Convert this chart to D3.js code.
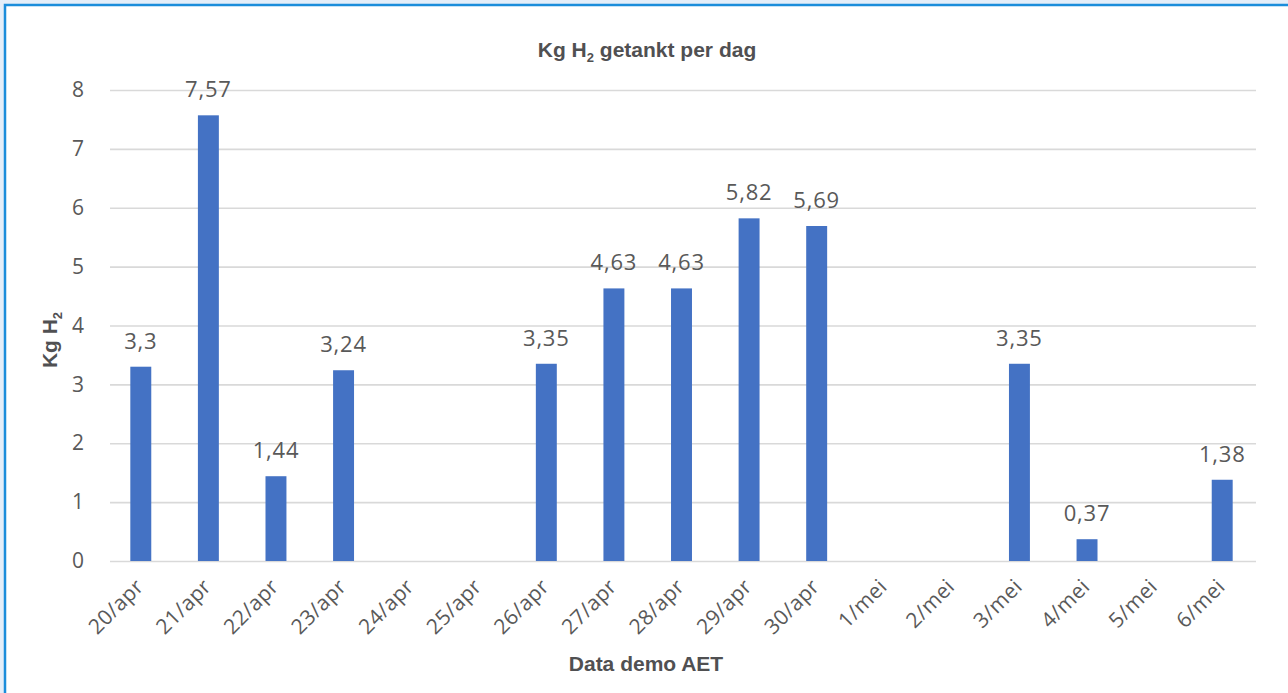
<!DOCTYPE html>
<html>
<head>
<meta charset="utf-8">
<script src="https://cdn.jsdelivr.net/npm/d3@7/dist/d3.min.js"></script>
<style>
  html, body { margin: 0; padding: 0; background: #e4eef9; }
  svg { display: block; }
</style>
</head>
<body>
<svg id="chart" width="1288" height="693"></svg>
<script>
// Daily hydrogen refuelled during the AET demo
const days = ["20/apr", "21/apr", "22/apr", "23/apr", "24/apr", "25/apr", "26/apr", "27/apr", "28/apr",
              "29/apr", "30/apr", "1/mei", "2/mei", "3/mei", "4/mei", "5/mei", "6/mei"];
const kgH2 = [3.3, 7.57, 1.44, 3.24, null, null, 3.35, 4.63, 4.63, 5.82, 5.69, null, null, 3.35, 0.37, null, 1.38];
const yTicks = [0, 1, 2, 3, 4, 5, 6, 7, 8];

const W = 1288, H = 693;
const plot = { left: 107, right: 1256, top: 90, bottom: 561 };
const textGrey = "#595959";
const titleGrey = "#505052";

const svg = d3.select("#chart");

// framed panel
svg.append("rect")
  .attr("x", 5).attr("y", 5)
  .attr("width", W + 10).attr("height", H + 10)
  .attr("fill", "#ffffff")
  .attr("stroke", "#1b8ddb")
  .attr("stroke-width", 2.5);

const x = d3.scaleBand()
  .domain(days)
  .range([plot.left, plot.right])
  .paddingInner(0.69)
  .paddingOuter(0.345);

const y = d3.scaleLinear()
  .domain([0, 8])
  .range([plot.bottom, plot.top]);

// horizontal gridlines + value labels on the left
const yAxis = d3.axisLeft(y)
  .tickValues(yTicks)
  .tickSize(-(plot.right - plot.left - 3))
  .tickPadding(26)
  .tickFormat(d3.format("d"));

const gy = svg.append("g")
  .attr("transform", `translate(${plot.left + 3},0)`)
  .call(yAxis);
gy.select(".domain").remove();
gy.selectAll(".tick line")
  .attr("stroke", "#d9d9d9")
  .attr("stroke-width", 1.6);
gy.selectAll(".tick text")
  .attr("fill", textGrey)
  .attr("font-family", "'Open Sans', sans-serif")
  .attr("font-size", 21);

// bars
const rows = days.map((d, i) => ({ day: d, value: kgH2[i] })).filter(r => r.value != null);

svg.append("g")
  .selectAll("rect")
  .data(rows)
  .join("rect")
  .attr("x", d => x(d.day))
  .attr("y", d => y(d.value))
  .attr("width", x.bandwidth())
  .attr("height", d => y(0) - y(d.value))
  .attr("fill", "#4472c4");

// value labels above bars
svg.append("g")
  .selectAll("text")
  .data(rows)
  .join("text")
  .attr("x", d => x(d.day) + x.bandwidth() / 2)
  .attr("y", d => y(d.value) - 18)
  .attr("text-anchor", "middle")
  .attr("fill", textGrey)
  .attr("font-family", "'Open Sans', sans-serif")
  .attr("font-size", 22)
  .attr("letter-spacing", 0.8)
  .text(d => String(d.value).replace(".", ","));

// rotated category labels
const xAxis = d3.axisBottom(x).tickSize(0).tickPadding(0);
const gx = svg.append("g")
  .attr("transform", `translate(0,${plot.bottom})`)
  .call(xAxis);
gx.select(".domain").remove();
gx.selectAll(".tick text")
  .attr("fill", textGrey)
  .attr("font-family", "'Open Sans', sans-serif")
  .attr("font-size", 21)
  .attr("letter-spacing", 0.4)
  .attr("text-anchor", "end")
  .attr("dy", 0)
  .attr("transform", "translate(4,27) rotate(-45)");

// chart title with subscript
const title = svg.append("text")
  .attr("x", 647).attr("y", 57)
  .attr("text-anchor", "middle")
  .attr("fill", titleGrey)
  .attr("font-family", "'Liberation Sans', Arial, sans-serif")
  .attr("font-weight", "bold")
  .attr("font-size", 21);
title.append("tspan").text("Kg H");
title.append("tspan").attr("font-size", 13).attr("dy", 5).text("2");
title.append("tspan").attr("dy", -5).text(" getankt per dag");

// x axis title
svg.append("text")
  .attr("x", 646).attr("y", 671)
  .attr("text-anchor", "middle")
  .attr("fill", titleGrey)
  .attr("font-family", "'Liberation Sans', Arial, sans-serif")
  .attr("font-weight", "bold")
  .attr("font-size", 21)
  .text("Data demo AET");

// y axis title with subscript
const yTitle = svg.append("text")
  .attr("transform", "translate(57,340) rotate(-90)")
  .attr("text-anchor", "middle")
  .attr("fill", titleGrey)
  .attr("font-family", "'Liberation Sans', Arial, sans-serif")
  .attr("font-weight", "bold")
  .attr("font-size", 21);
yTitle.append("tspan").text("Kg H");
yTitle.append("tspan").attr("font-size", 13).attr("dy", 5).text("2");
</script>
</body>
</html>
